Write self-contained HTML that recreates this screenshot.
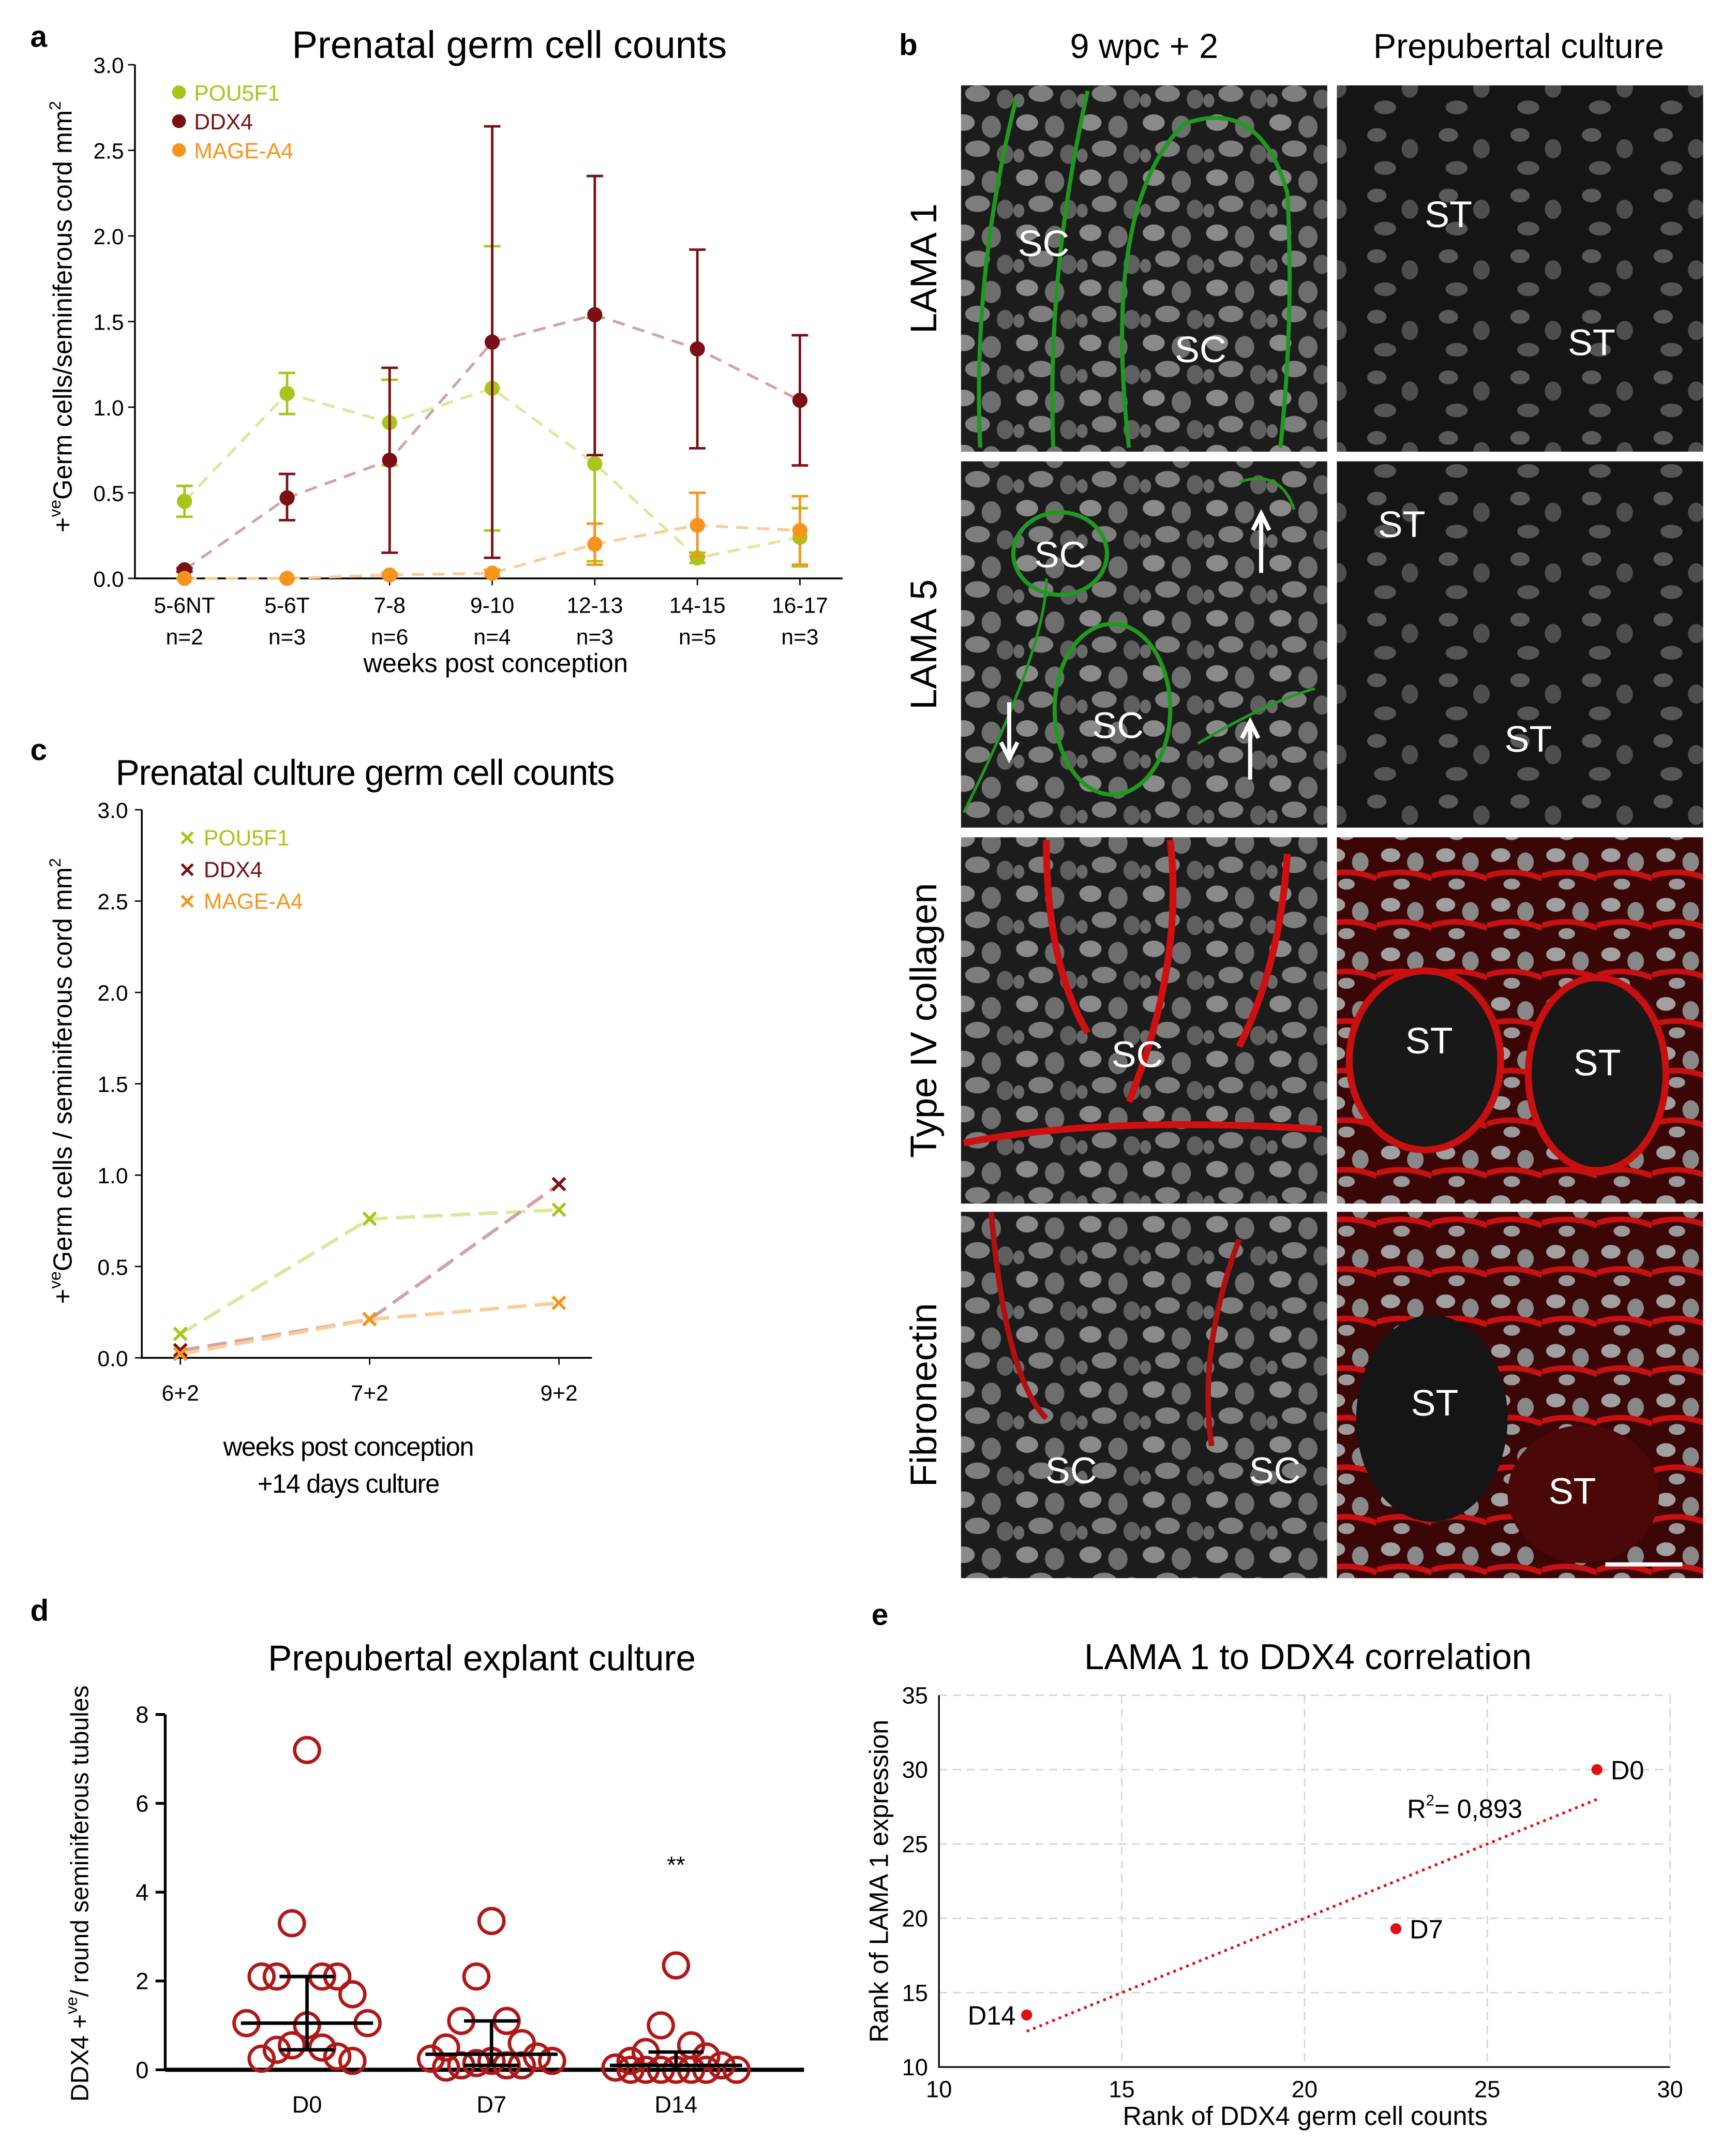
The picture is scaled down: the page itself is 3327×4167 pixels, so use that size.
<!DOCTYPE html>
<html><head><meta charset="utf-8"><style>
html,body{margin:0;padding:0;background:#fff}
svg{display:block}
text{font-family:"Liberation Sans",Arial,sans-serif}
</style></head><body>
<svg id="fig" xmlns="http://www.w3.org/2000/svg" width="3327" height="4167" viewBox="0 0 1250 1565.6">
<defs>
<pattern id="nuc" width="46" height="40" patternUnits="userSpaceOnUse">
<rect width="46" height="40" fill="#1c1c1c"/>
<ellipse cx="10" cy="9" rx="8" ry="6" fill="#8a8a8a"/>
<ellipse cx="30" cy="12" rx="7" ry="8" fill="#6e6e6e"/>
<ellipse cx="20" cy="28" rx="9" ry="6" fill="#7e7e7e"/>
<ellipse cx="40" cy="32" rx="6" ry="7" fill="#5f5f5f"/>
<ellipse cx="4" cy="33" rx="4" ry="5" fill="#6a6a6a"/>
</pattern>
<pattern id="nuc2" width="52" height="44" patternUnits="userSpaceOnUse">
<rect width="52" height="44" fill="#151515"/>
<ellipse cx="12" cy="10" rx="7" ry="5" fill="#5a5a5a"/>
<ellipse cx="36" cy="20" rx="6" ry="7" fill="#4e4e4e"/>
<ellipse cx="18" cy="34" rx="8" ry="5" fill="#555"/>
</pattern>
<pattern id="nucr" width="40" height="36" patternUnits="userSpaceOnUse">
<rect width="40" height="36" fill="#3a0606"/>
<ellipse cx="10" cy="9" rx="7" ry="5" fill="#a0a0a0"/>
<ellipse cx="28" cy="14" rx="6" ry="7" fill="#888"/>
<path d="M0 24 Q20 18 40 26" stroke="#c81010" stroke-width="4" fill="none"/>
<ellipse cx="18" cy="30" rx="6" ry="4" fill="#999"/>
</pattern>
</defs>

<text x="22" y="34" font-size="22" font-weight="bold">a</text>
<text x="653" y="40" font-size="22" font-weight="bold">b</text>
<text x="22" y="552" font-size="22" font-weight="bold">c</text>
<text x="22" y="1177" font-size="22" font-weight="bold">d</text>
<text x="633" y="1180" font-size="22" font-weight="bold">e</text>

<g id="pa"></g>
<g id="pc"></g>
<g id="pb"></g>
<g id="pd"></g>
<g id="pe"></g>
</svg>
<script>
const NS="http://www.w3.org/2000/svg";
function mk(p,tag,at,txt){const e=document.createElementNS(NS,tag);for(const k in at)e.setAttribute(k,at[k]);if(txt!==undefined)e.textContent=txt;p.appendChild(e);return e;}
const COL={POU5F1:"#a9c41a",DDX4:"#7a1014",MAGE:"#f7941d"};
const COLL={POU5F1:"#dde79a",DDX4:"#d2a3a5",MAGE:"#fbcc95"};

const aCats=["5-6NT","5-6T","7-8","9-10","12-13","14-15","16-17"];
const aN=["n=2","n=3","n=6","n=4","n=3","n=5","n=3"];
const aPou=[0.45,1.08,0.91,1.11,0.67,0.12,0.24];
const aPouLo=[0.36,0.96,0.66,0.28,0.10,0.09,0.07];
const aPouHi=[0.54,1.20,1.16,1.94,1.52,0.15,0.41];
const aDdx=[0.05,0.47,0.69,1.38,1.54,1.34,1.04];
const aDdxLo=[0.04,0.34,0.15,0.12,0.72,0.76,0.66];
const aDdxHi=[0.06,0.61,1.23,2.64,2.35,1.92,1.42];
const aMag=[0.0,0.0,0.02,0.03,0.20,0.31,0.28];
const aMagLo=[0.0,0.0,0.01,0.01,0.08,0.13,0.08];
const aMagHi=[0.0,0.0,0.03,0.05,0.32,0.50,0.48];
const aTicks=[0,0.5,1,1.5,2,2.5,3];

(function(){
 const g=document.getElementById('pa');
 const x0=98,x1=612,yb=420,yt=47;
 const X=i=>134+i*74.5, Y=v=>yb-(v/3)*(yb-yt);
 const t=mk(g,'text',{x:370,y:42,'font-size':28,'text-anchor':'middle'},'Prenatal germ cell counts');
 
 const ax=mk(g,'path',{d:`M${x0} ${yt}V${yb}H${x1}`,stroke:'#000','stroke-width':1.3,fill:'none'});
 
 aTicks.forEach(v=>{mk(g,'line',{x1:x0-5,x2:x0,y1:Y(v),y2:Y(v),stroke:'#000'});
  const tl=mk(g,'text',{x:x0-8,y:Y(v)+6,'font-size':16,'text-anchor':'end'},v.toFixed(1));
  });
 aCats.forEach((c,i)=>{mk(g,'line',{x1:X(i),x2:X(i),y1:yb,y2:yb+5,stroke:'#000'});
  const tl=mk(g,'text',{x:X(i),y:445,'font-size':16,'text-anchor':'middle'},c);
  
  mk(g,'text',{x:X(i),y:468,'font-size':16,'text-anchor':'middle'},aN[i]);});
 const xt=mk(g,'text',{x:360,y:488,'font-size':19,'text-anchor':'middle'},'weeks post conception');
 
 const yt2=mk(g,'text',{transform:`translate(52,230) rotate(-90)`,'font-size':19,'text-anchor':'middle'},'');
 
 mk(yt2,'tspan',{},'+');mk(yt2,'tspan',{'font-size':12,dy:-8},'ve');mk(yt2,'tspan',{dy:8},'Germ cells/seminiferous cord mm');mk(yt2,'tspan',{'font-size':12,dy:-8},'2');
 const ser=[["POU5F1",aPou,aPouLo,aPouHi],["DDX4",aDdx,aDdxLo,aDdxHi],["MAGE",aMag,aMagLo,aMagHi]];
 ser.forEach(([k,v,lo,hi])=>{
  const ln=mk(g,'polyline',{points:v.map((d,i)=>X(i)+','+Y(d)).join(' '),fill:'none',stroke:COLL[k],'stroke-width':2,'stroke-dasharray':'9 6'});
  });
 ser.forEach(([k,v,lo,hi])=>{v.forEach((d,i)=>{
  mk(g,'path',{d:`M${X(i)} ${Y(lo[i])}V${Y(hi[i])}M${X(i)-6} ${Y(lo[i])}h12M${X(i)-6} ${Y(hi[i])}h12`,stroke:COL[k],'stroke-width':1.8,fill:'none'});
  const c=mk(g,'circle',{cx:X(i),cy:Y(d),r:5.5,fill:COL[k]});
  });});
 [["POU5F1","POU5F1",67],["DDX4","DDX4",88],["MAGE","MAGE-A4",109]].forEach(([k,l,y])=>{
  const le=mk(g,'g',{});
  mk(le,'circle',{cx:130,cy:y,r:5,fill:COL[k]});mk(le,'text',{x:141,y:y+6,'font-size':16,fill:COL[k]},l);});
})();

const cCats=["6+2","7+2","9+2"];
const cPou=[0.13,0.76,0.81];
const cDdx=[0.04,0.21,0.95];
const cMag=[0.02,0.21,0.30];
const cTicks=[0,0.5,1,1.5,2,2.5,3];
(function(){
 const g=document.getElementById('pc');
 const x0=103,x1=430,yb=986,yt=588;
 const X=i=>131+i*137.5, Y=v=>yb-(v/3)*(yb-yt);
 const t=mk(g,'text',{x:265,y:570,'font-size':26,'text-anchor':'middle','letter-spacing':'-0.5'},'Prenatal culture germ cell counts');
 
 mk(g,'path',{d:`M${x0} ${yt}V${yb}H${x1}`,stroke:'#000','stroke-width':1.3,fill:'none'});
 cTicks.forEach(v=>{mk(g,'line',{x1:x0-5,x2:x0,y1:Y(v),y2:Y(v),stroke:'#000'});
  mk(g,'text',{x:x0-10,y:Y(v)+6,'font-size':16,'text-anchor':'end'},v.toFixed(1));});
 cCats.forEach((c,i)=>{mk(g,'line',{x1:X(i),x2:X(i),y1:yb,y2:yb+5,stroke:'#000'});
  const tl=mk(g,'text',{x:X(i),y:1017,'font-size':16,'text-anchor':'middle'},c);
  });
 mk(g,'text',{x:253,y:1057,'font-size':19,'text-anchor':'middle','letter-spacing':'-0.5'},'weeks post conception');
 mk(g,'text',{x:253,y:1084,'font-size':19,'text-anchor':'middle','letter-spacing':'-0.5'},'+14 days culture');
 const yt2=mk(g,'text',{transform:`translate(52,785) rotate(-90)`,'font-size':19,'text-anchor':'middle'},'');
 mk(yt2,'tspan',{},'+');mk(yt2,'tspan',{'font-size':12,dy:-8},'ve');mk(yt2,'tspan',{dy:8},'Germ cells / seminiferous cord mm');mk(yt2,'tspan',{'font-size':12,dy:-8},'2');
 const ser=[["POU5F1",cPou],["DDX4",cDdx],["MAGE",cMag]];
 ser.forEach(([k,v])=>{const ln=mk(g,'polyline',{points:v.map((d,i)=>X(i)+','+Y(d)).join(' '),fill:'none',stroke:COLL[k],'stroke-width':2.5,'stroke-dasharray':'14 6'});
  });
 ser.forEach(([k,v])=>v.forEach((d,i)=>{const m=mk(g,'text',{x:X(i),y:Y(d)+6,'font-size':17,'font-weight':'bold','text-anchor':'middle',fill:COL[k]},'✕');
  }));
 [["POU5F1","POU5F1",608],["DDX4","DDX4",631],["MAGE","MAGE-A4",654]].forEach(([k,l,y])=>{
  const le=mk(g,'g',{});
  mk(le,'text',{x:136,y:y+6,'font-size':15,'font-weight':'bold','text-anchor':'middle',fill:COL[k]},'✕');mk(le,'text',{x:148,y:y+6,'font-size':16,fill:COL[k]},l);});
})();

(function(){
 const g=document.getElementById('pb');
 const cols=[698,971],rows=[62,335,608,880],w=266,h=266;
 mk(g,'text',{x:831,y:42,'font-size':25,'text-anchor':'middle'},'9 wpc + 2');
 mk(g,'text',{x:1103,y:42,'font-size':25,'text-anchor':'middle'},'Prepubertal culture');
 const rl=["LAMA 1","LAMA 5","Type IV collagen","Fibronectin"];
 const fills=[["url(#nuc)","url(#nuc2)"],["url(#nuc)","url(#nuc2)"],["url(#nuc)","url(#nucr)"],["url(#nuc)","url(#nucr)"]];
 rows.forEach((y,r)=>{
  const lt=mk(g,'text',{transform:`translate(680,${y+h/2}) rotate(-90)`,'font-size':27,'text-anchor':'middle'},rl[r]);
  
  cols.forEach((x,c)=>{const im=mk(g,'rect',{x:x,y:y,width:w,height:h,fill:fills[r][c]});
   });});
 mk(g,'path',{d:'M712 325 Q706 200 738 72 M765 325 Q760 200 790 66 M820 325 Q800 150 860 90 Q915 70 935 140 Q940 230 930 325',stroke:'#1f9a1f','stroke-width':3,fill:'none'});
 mk(g,'ellipse',{cx:770,cy:402,rx:34,ry:30,stroke:'#1f9a1f','stroke-width':3,fill:'none'});
 mk(g,'ellipse',{cx:808,cy:515,rx:42,ry:62,stroke:'#1f9a1f','stroke-width':3,fill:'none'});
 mk(g,'path',{d:'M700 590 Q760 470 760 420 M870 540 Q920 510 955 500 M900 350 Q930 340 940 370',stroke:'#1f9a1f','stroke-width':2,fill:'none'});
 mk(g,'path',{d:'M700 830 Q800 810 960 820 M760 610 Q760 700 790 750 M850 610 Q860 700 820 800 M935 620 Q930 700 900 760',stroke:'#d01010','stroke-width':5,fill:'none'});
 mk(g,'path',{d:'M720 880 Q730 1000 760 1030 M900 900 Q870 980 880 1050',stroke:'#b01010','stroke-width':4,fill:'none'});
 mk(g,'ellipse',{cx:1040,cy:1030,rx:55,ry:75,fill:'#151515'});
 mk(g,'ellipse',{cx:1150,cy:1085,rx:55,ry:50,fill:'#4a0808'});
 mk(g,'ellipse',{cx:1035,cy:770,rx:55,ry:65,fill:'#181818',stroke:'#c81010','stroke-width':5});
 mk(g,'ellipse',{cx:1160,cy:780,rx:50,ry:70,fill:'#181818',stroke:'#c81010','stroke-width':5});
 const labs=[[758,186,"SC"],[872,263,"SC"],[1052,165,"ST"],[1156,258,"ST"],[770,412,"SC"],[1018,390,"ST"],[812,536,"SC"],[1110,546,"ST"],[826,775,"SC"],[1038,765,"ST"],[1160,781,"ST"],[778,1077,"SC"],[926,1077,"SC"],[1042,1028,"ST"],[1142,1092,"ST"]];
 labs.forEach(([x,y,s])=>{const t=mk(g,'text',{x:x,y:y,'font-size':27,fill:'#fff','text-anchor':'middle'},s);
  });
 mk(g,'path',{d:'M916 416V375M910 385L916 373L922 385M908 566V526M902 536L908 524L914 536M733 510V549M727 539L733 551L739 539',stroke:'#fff','stroke-width':3,fill:'none'});
 mk(g,'line',{x1:1166,x2:1222,y1:1136,y2:1136,stroke:'#fff','stroke-width':3});
})();

const dCats=["D0","D7","D14"];
const dD0=[7.2,3.3,2.1,2.1,2.1,2.1,1.7,1.05,1.05,1.0,0.55,0.5,0.45,0.3,0.25,0.2];
const dD7=[3.35,2.1,1.1,1.1,0.6,0.5,0.3,0.25,0.2,0.2,0.15,0.1,0.1,0.1,0.05];
const dD14=[2.35,1.0,0.55,0.4,0.3,0.2,0.1,0.05,0,0,0,0,0,0,0];
const dMed=[1.05,0.35,0.1];
const dQ1=[0.45,0.1,0];
const dQ3=[2.1,1.1,0.4];
const dTicks=[0,2,4,6,8];
(function(){
 const g=document.getElementById('pd');
 const x0=120,x1=584,yb=1503,yt=1245;
 const X=i=>223+i*134, Y=v=>yb-(v/8)*(yb-yt);
 mk(g,'text',{x:350,y:1213,'font-size':26,'text-anchor':'middle'},'Prepubertal explant culture');
 mk(g,'line',{x1:x0,x2:x0,y1:yt,y2:yb,stroke:'#000','stroke-width':2});
 mk(g,'line',{x1:x0,x2:x1,y1:yb,y2:yb,stroke:'#000','stroke-width':3});
 dTicks.forEach(v=>{mk(g,'line',{x1:x0-7,x2:x0,y1:Y(v),y2:Y(v),stroke:'#000','stroke-width':2});
  mk(g,'text',{x:x0-12,y:Y(v)+6,'font-size':17,'text-anchor':'end'},v);});
 dCats.forEach((c,i)=>{const t=mk(g,'text',{x:X(i),y:1534,'font-size':17,'text-anchor':'middle'},c);
  });
 const yt2=mk(g,'text',{transform:`translate(64,1375) rotate(-90)`,'font-size':18,'text-anchor':'middle'},'');
 mk(yt2,'tspan',{},'DDX4 +');mk(yt2,'tspan',{'font-size':12,dy:-8},'ve');mk(yt2,'tspan',{dy:8},'/ round seminiferous tubules');
 const jit=[0,-1,1,-2,2,-3,3,-4,4];
 [dD0,dD7,dD14].forEach((arr,gi)=>{
  arr.forEach((v,i)=>{const off=jit[i%9]*11;
   const c=mk(g,'circle',{cx:X(gi)+off,cy:Y(v),r:9,fill:'none',stroke:'#b01818','stroke-width':2.5});
   });
  mk(g,'line',{x1:X(gi)-48,x2:X(gi)+48,y1:Y(dMed[gi]),y2:Y(dMed[gi]),stroke:'#000','stroke-width':2.5});
  mk(g,'line',{x1:X(gi)-20,x2:X(gi)+20,y1:Y(dQ1[gi]),y2:Y(dQ1[gi]),stroke:'#000','stroke-width':2.5});
  mk(g,'line',{x1:X(gi)-20,x2:X(gi)+20,y1:Y(dQ3[gi]),y2:Y(dQ3[gi]),stroke:'#000','stroke-width':2.5});
  mk(g,'line',{x1:X(gi),x2:X(gi),y1:Y(dQ1[gi]),y2:Y(dQ3[gi]),stroke:'#000','stroke-width':2.5});
 });
 mk(g,'text',{x:X(2),y:1360,'font-size':17,'text-anchor':'middle'},'**');
})();

const eLabels=["D0","D7","D14"];
const eX=[28,22.5,12.4];
const eY=[30,19.3,13.5];
const eFitX=[12.4,28];
const eFitY=[12.4,28];
const eXTicks=[10,15,20,25,30];
const eYTicks=[10,15,20,25,30,35];
(function(){
 const g=document.getElementById('pe');
 const X=v=>682+(v-10)/20*(1213-682), Y=v=>1501-(v-10)/25*(1501-1231);
 mk(g,'text',{x:950,y:1212,'font-size':26,'text-anchor':'middle'},'LAMA 1 to DDX4 correlation');
 eXTicks.forEach(v=>{mk(g,'line',{x1:X(v),x2:X(v),y1:Y(35),y2:Y(10),stroke:'#d4d4d4','stroke-dasharray':'6 4'});
  mk(g,'text',{x:X(v),y:1523,'font-size':17,'text-anchor':'middle'},v);});
 eYTicks.forEach(v=>{mk(g,'line',{x1:X(10),x2:X(30),y1:Y(v),y2:Y(v),stroke:'#d4d4d4','stroke-dasharray':'6 4'});
  mk(g,'text',{x:X(10)-8,y:Y(v)+6,'font-size':17,'text-anchor':'end'},v);});
 mk(g,'path',{d:`M${X(10)} ${Y(35)}V${Y(10)}H${X(30)}`,stroke:'#000','stroke-width':1.2,fill:'none'});
 mk(g,'text',{x:948,y:1543,'font-size':19,'text-anchor':'middle'},'Rank of DDX4 germ  cell counts');
 mk(g,'text',{transform:'translate(645,1366) rotate(-90)','font-size':19,'text-anchor':'middle'},'Rank of LAMA 1 expression');
 const fl=mk(g,'line',{x1:X(eFitX[0]),y1:Y(eFitY[0]),x2:X(eFitX[1]),y2:Y(eFitY[1]),stroke:'#e01010','stroke-width':2,'stroke-dasharray':'2 3'});
 
 eX.forEach((v,i)=>{const c=mk(g,'circle',{cx:X(v),cy:Y(eY[i]),r:4,fill:'#e01010'});
  
  const left=i===2;
  mk(g,'text',{x:left?X(v)-8:X(v)+10,y:Y(eY[i])+7,'font-size':19,'text-anchor':left?'end':'start'},eLabels[i]);});
 const r=mk(g,'text',{x:1022,y:1320,'font-size':19},'');
 mk(r,'tspan',{},'R');mk(r,'tspan',{'font-size':11,dy:-9},'2');mk(r,'tspan',{dy:9},'= 0,893');
})();
</script>
</body></html>
